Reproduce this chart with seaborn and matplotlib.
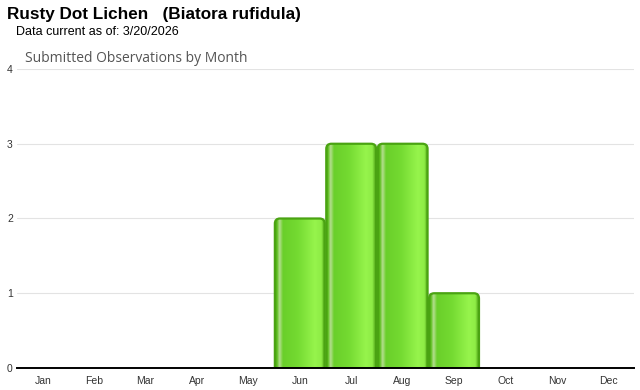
import numpy as np
import pandas as pd
import matplotlib
matplotlib.use("Agg")
import matplotlib.pyplot as plt
import seaborn as sns
from matplotlib.patches import FancyBboxPatch
from matplotlib.colors import LinearSegmentedColormap

months = ["Jan", "Feb", "Mar", "Apr", "May", "Jun", "Jul", "Aug", "Sep", "Oct", "Nov", "Dec"]
counts = [0, 0, 0, 0, 0, 2, 3, 3, 1, 0, 0, 0]
y_ticks = [0, 1, 2, 3, 4]

title = "Rusty Dot Lichen   (Biatora rufidula)"
subtitle = "Data current as of: 3/20/2026"
chart_title = "Submitted Observations by Month"

sns.set_theme(style="white")
plt.rcParams["font.family"] = ["Liberation Sans", "DejaVu Sans"]

df = pd.DataFrame({"month": months, "count": counts})

fig = plt.figure(figsize=(6.4, 3.9), dpi=100)
ax = fig.add_axes([17 / 640, 1 - 368 / 390, (634 - 17) / 640, (368 - 69) / 390])

sns.barplot(data=df, x="month", y="count", order=months, width=0.97,
            color="#6fd62a", ax=ax, zorder=3)

ax.set_ylim(0, 4)
ax.set_xlim(-0.5, 11.5)
ax.set_yticks(y_ticks)
ax.set_yticklabels([str(t) for t in y_ticks])
ax.set_xlabel("")
ax.set_ylabel("")
ax.grid(axis="y", color="#e3e3e3", linewidth=0.8, zorder=0)
ax.grid(axis="x", visible=False)
for side in ["top", "right", "left"]:
    ax.spines[side].set_visible(False)
ax.spines["bottom"].set_color("#000000")
ax.spines["bottom"].set_linewidth(1.4)
ax.spines["bottom"].set_zorder(6)
ax.tick_params(axis="both", length=0, labelsize=7.5, colors="#333333")
ax.tick_params(axis="y", pad=3)
ax.tick_params(axis="x", pad=6)

cmap = LinearSegmentedColormap.from_list("barg", [
    (0.00, "#4a9e12"),
    (0.04, "#5cbf1e"),
    (0.09, "#b6de90"),
    (0.16, "#6acf2a"),
    (0.45, "#74da31"),
    (0.80, "#96f44c"),
    (0.93, "#8eec46"),
    (1.00, "#4a9e12"),
])
grad = np.linspace(0, 1, 256).reshape(1, -1)

for p in list(ax.patches):
    x, w, h = p.get_x(), p.get_width(), p.get_height()
    p.set_visible(False)
    if h <= 0:
        continue
    box = FancyBboxPatch((x, -0.1), w, h + 0.1,
                         boxstyle="round,pad=0,rounding_size=0.1",
                         mutation_aspect=0.688,
                         facecolor="none", edgecolor="#4aa312",
                         linewidth=1.6, zorder=5)
    ax.add_patch(box)
    im = ax.imshow(grad, cmap=cmap, extent=[x, x + w, -0.1, h], aspect="auto",
                   interpolation="bilinear", zorder=4)
    im.set_clip_path(box)

ax.set_xlim(-0.5, 11.5)
ax.set_ylim(0, 4)

fig.text(7 / 640, 1 - 15 / 390, title, fontsize=12.3, fontweight="bold",
         color="#000000", va="center", ha="left")
fig.text(16 / 640, 1 - 32 / 390, subtitle, fontsize=9, color="#000000",
         va="center", ha="left")
fig.text(25 / 640, 1 - 58 / 390, chart_title, fontsize=10, color="#555555",
         va="center", ha="left", family=["Open Sans", "DejaVu Sans"])

fig.savefig("out.png", dpi=100)
